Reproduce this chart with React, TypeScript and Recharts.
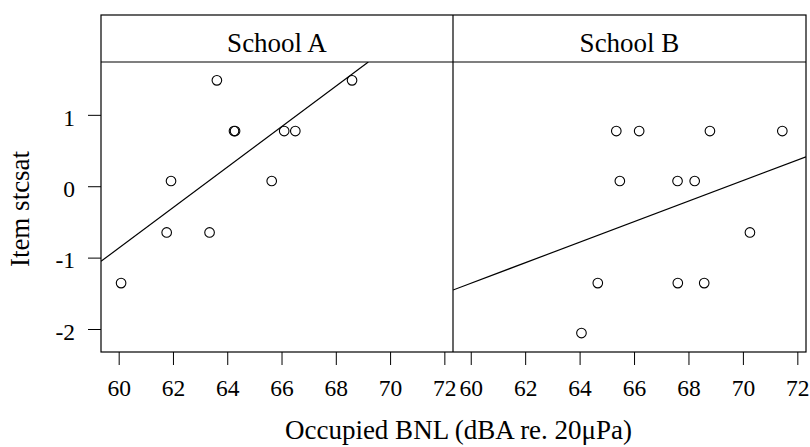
import { Scatter, ScatterChart, XAxis, YAxis } from 'recharts';

// x ticks and y ticks shared by both panels
const xTicks = [60, 62, 64, 66, 68, 70, 72];
const yTicks = [-2, -1, 0, 1];
const xDomain = [59.33, 72.3];
const yDomain = [-2.315, 1.747];

const panelNames = ['School A', 'School B'];

// School A observations (BNL, item stcsat)
const schoolAX = [60.07, 61.75, 61.91, 63.33, 63.6, 64.23, 64.27, 65.62, 66.08, 66.49, 68.58];
const schoolAY = [-1.35, -0.64, 0.08, -0.64, 1.49, 0.78, 0.78, 0.08, 0.78, 0.78, 1.49];

// School B observations
const schoolBX = [64.05, 64.65, 65.33, 65.46, 66.17, 67.58, 67.59, 68.21, 68.56, 68.77, 70.24, 71.43];
const schoolBY = [-2.05, -1.35, 0.78, 0.08, 0.78, 0.08, -1.35, 0.08, -1.35, 0.78, -0.64, 0.78];

// fitted lines, end points as drawn
const fitAX = [59.33, 69.18];
const fitAY = [-1.045, 1.747];
const fitBX = [59.33, 72.3];
const fitBY = [-1.447, 0.42];

const zip = (xs: number[], ys: number[]) => xs.map((x, i) => ({ x, y: ys[i] }));

const FONT = 'Liberation Serif, Times New Roman, serif';
const TICK_SIZE = 23.5;

const OpenCircle = (props: any) => {
  const { cx, cy } = props;
  if (cx == null || cy == null) return <g />;
  return <circle cx={cx} cy={cy} r={4.8} fill="none" stroke="#000" strokeWidth={1.1} />;
};

const NoDot = () => <g />;

const YTick = (props: any) => {
  const { x, y, payload } = props;
  return (
    <text x={x} y={y + 2} dy="0.355em" textAnchor="end" fill="#000" fontSize={TICK_SIZE} fontFamily={FONT}>
      {payload.value}
    </text>
  );
};

const XTick = (props: any) => {
  const { x, payload } = props;
  // baseline placed just under the tick marks
  return (
    <text x={x} y={396} textAnchor="middle" fill="#000" fontSize={TICK_SIZE} fontFamily={FONT}>
      {payload.value}
    </text>
  );
};

interface PanelProps {
  points: { x: number; y: number }[];
  fit: { x: number; y: number }[];
  showY: boolean;
  left: number;
  width: number;
  margin: { top: number; right: number; bottom: number; left: number };
}

function Panel({ points, fit, showY, left, width, margin }: PanelProps) {
  return (
    <div style={{ position: 'absolute', left, top: 0 }}>
      <ScatterChart width={width} height={447} margin={margin}>
        <XAxis
          type="number"
          dataKey="x"
          domain={xDomain}
          ticks={xTicks}
          allowDataOverflow
          axisLine={false}
          tickLine={{ stroke: '#000' }}
          tickSize={13}
          tickMargin={16}
          height={60}
          interval={0}
          tick={<XTick />}
        />
        <YAxis
          type="number"
          dataKey="y"
          domain={yDomain}
          ticks={yTicks}
          allowDataOverflow
          hide={!showY}
          width={60}
          axisLine={false}
          tickLine={{ stroke: '#000' }}
          tickSize={13}
          tickMargin={13}
          interval={0}
          tick={<YTick />}
        />
        <Scatter data={fit} line={{ stroke: '#000', strokeWidth: 1.2 }} shape={NoDot} isAnimationActive={false} legendType="none" />
        <Scatter data={points} shape={OpenCircle} isAnimationActive={false} legendType="none" />
      </ScatterChart>
    </div>
  );
}

export default function App() {
  return (
    <div style={{ position: 'absolute', left: 0, top: 0, width: 810, height: 447, background: '#fff', overflow: 'hidden' }}>
      <Panel
        points={zip(schoolAX, schoolAY)}
        fit={zip(fitAX, fitAY)}
        showY
        left={0}
        width={460}
        margin={{ top: 62, right: 7, bottom: 35, left: 41 }}
      />
      <Panel
        points={zip(schoolBX, schoolBY)}
        fit={zip(fitBX, fitBY)}
        showY={false}
        left={440}
        width={370}
        margin={{ top: 62, right: 4, bottom: 35, left: 13 }}
      />
      <svg width={810} height={447} style={{ position: 'absolute', left: 0, top: 0, pointerEvents: 'none' }}>
        <g fill="none" stroke="#000" strokeWidth={1.2}>
          <rect x={101} y={15} width={705} height={337} />
          <line x1={101} y1={62} x2={806} y2={62} />
          <line x1={453} y1={15} x2={453} y2={352} />
        </g>
        <g fontFamily={FONT} fontSize={27} fill="#000" textAnchor="middle">
          <text x={277} y={51.5}>{panelNames[0]}</text>
          <text x={629.5} y={51.5}>{panelNames[1]}</text>
          <text x={458.5} y={438.5}>Occupied BNL (dBA re. 20μPa)</text>
          <text transform="translate(28.5, 209) rotate(-90)">Item stcsat</text>
        </g>
      </svg>
    </div>
  );
}
